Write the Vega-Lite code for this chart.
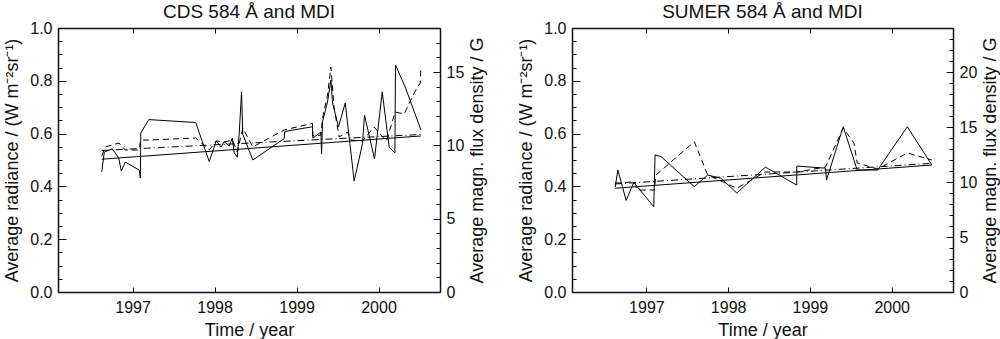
{
  "$schema": "https://vega.github.io/schema/vega-lite/v6.json",
  "padding": {"left": 3, "right": 0, "top": 3, "bottom": 0},
  "config": {
    "view": {"stroke": null},
    "font": "Liberation Sans",
    "axis": {"labelFont": "Liberation Sans", "labelFontSize": 16, "labelColor": "#111", "titleFont": "Liberation Sans", "titleFontSize": 18, "titleFontWeight": "normal", "titleColor": "#111", "domainColor": "#111", "domainWidth": 1.5, "tickColor": "#111", "tickWidth": 1, "grid": false},
    "title": {"font": "Liberation Sans", "fontSize": 19, "fontWeight": "normal", "color": "#111", "offset": -2},
    "concat": {"spacing": 30}
  },
  "datasets": {
    "cdsRad": [
      {"year": 1996.624, "rad": 0.455}, {"year": 1996.655, "rad": 0.530}, {"year": 1996.752, "rad": 0.542}, {"year": 1996.831, "rad": 0.508},
      {"year": 1996.862, "rad": 0.458}, {"year": 1996.911, "rad": 0.492}, {"year": 1997.081, "rad": 0.462}, {"year": 1997.094, "rad": 0.432},
      {"year": 1997.100, "rad": 0.602}, {"year": 1997.197, "rad": 0.653}, {"year": 1997.770, "rad": 0.642}, {"year": 1997.935, "rad": 0.494},
      {"year": 1998.020, "rad": 0.572}, {"year": 1998.081, "rad": 0.549}, {"year": 1998.118, "rad": 0.570}, {"year": 1998.179, "rad": 0.553},
      {"year": 1998.216, "rad": 0.583}, {"year": 1998.240, "rad": 0.527}, {"year": 1998.277, "rad": 0.511}, {"year": 1998.301, "rad": 0.602},
      {"year": 1998.329, "rad": 0.758}, {"year": 1998.344, "rad": 0.598}, {"year": 1998.466, "rad": 0.500}, {"year": 1998.850, "rad": 0.581},
      {"year": 1998.856, "rad": 0.608}, {"year": 1999.195, "rad": 0.626}, {"year": 1999.199, "rad": 0.583}, {"year": 1999.297, "rad": 0.606},
      {"year": 1999.305, "rad": 0.523}, {"year": 1999.317, "rad": 0.645}, {"year": 1999.378, "rad": 0.720}, {"year": 1999.419, "rad": 0.803},
      {"year": 1999.439, "rad": 0.716}, {"year": 1999.512, "rad": 0.626}, {"year": 1999.594, "rad": 0.716}, {"year": 1999.703, "rad": 0.420},
      {"year": 1999.805, "rad": 0.563}, {"year": 1999.829, "rad": 0.670}, {"year": 1999.951, "rad": 0.504}, {"year": 2000.045, "rad": 0.758},
      {"year": 2000.130, "rad": 0.549}, {"year": 2000.200, "rad": 0.527}, {"year": 2000.207, "rad": 0.860}, {"year": 2000.325, "rad": 0.777},
      {"year": 2000.517, "rad": 0.614}
    ],
    "cdsFlux": [
      {"year": 1996.624, "flux": 9.27}, {"year": 1996.667, "flux": 9.89}, {"year": 1996.834, "flux": 10.16}, {"year": 1996.911, "flux": 9.68},
      {"year": 1997.081, "flux": 9.68}, {"year": 1997.097, "flux": 10.36}, {"year": 1997.197, "flux": 10.36}, {"year": 1997.770, "flux": 10.50},
      {"year": 1997.935, "flux": 9.68}, {"year": 1998.020, "flux": 10.30}, {"year": 1998.118, "flux": 10.23}, {"year": 1998.216, "flux": 10.36},
      {"year": 1998.277, "flux": 9.55}, {"year": 1998.344, "flux": 11.18}, {"year": 1998.466, "flux": 9.89}, {"year": 1998.850, "flux": 11.05},
      {"year": 1999.195, "flux": 11.50}, {"year": 1999.199, "flux": 10.64}, {"year": 1999.297, "flux": 10.70}, {"year": 1999.317, "flux": 11.86},
      {"year": 1999.378, "flux": 13.43}, {"year": 1999.419, "flux": 15.34}, {"year": 1999.459, "flux": 12.55}, {"year": 1999.520, "flux": 10.57},
      {"year": 1999.622, "flux": 10.91}, {"year": 1999.663, "flux": 10.36}, {"year": 1999.805, "flux": 10.30}, {"year": 1999.947, "flux": 11.25},
      {"year": 2000.029, "flux": 10.70}, {"year": 2000.097, "flux": 10.30}, {"year": 2000.203, "flux": 12.27}, {"year": 2000.313, "flux": 12.14},
      {"year": 2000.435, "flux": 13.57}, {"year": 2000.508, "flux": 14.25}, {"year": 2000.517, "flux": 15.27}
    ],
    "cdsRadFit": [{"year": 1996.624, "rad": 0.503}, {"year": 2000.517, "rad": 0.591}],
    "cdsFluxFit": [{"year": 1996.624, "flux": 9.65}, {"year": 2000.517, "flux": 10.74}],
    "sumerRad": [
      {"year": 1996.618, "rad": 0.397}, {"year": 1996.651, "rad": 0.462}, {"year": 1996.752, "rad": 0.347}, {"year": 1996.846, "rad": 0.415},
      {"year": 1997.090, "rad": 0.323}, {"year": 1997.106, "rad": 0.519}, {"year": 1997.179, "rad": 0.513}, {"year": 1997.586, "rad": 0.399},
      {"year": 1997.749, "rad": 0.443}, {"year": 1997.911, "rad": 0.431}, {"year": 1998.106, "rad": 0.375}, {"year": 1998.456, "rad": 0.473},
      {"year": 1998.838, "rad": 0.405}, {"year": 1998.840, "rad": 0.477}, {"year": 1999.191, "rad": 0.469}, {"year": 1999.203, "rad": 0.424},
      {"year": 1999.407, "rad": 0.626}, {"year": 1999.578, "rad": 0.462}, {"year": 1999.828, "rad": 0.462}, {"year": 2000.191, "rad": 0.626},
      {"year": 2000.492, "rad": 0.481}
    ],
    "sumerFlux": [
      {"year": 1996.618, "flux": 9.91}, {"year": 1996.688, "flux": 9.91}, {"year": 1996.852, "flux": 10.03}, {"year": 1996.895, "flux": 9.27},
      {"year": 1997.096, "flux": 9.27}, {"year": 1997.118, "flux": 10.64}, {"year": 1997.586, "flux": 13.66}, {"year": 1997.749, "flux": 10.64},
      {"year": 1998.106, "flux": 9.43}, {"year": 1998.456, "flux": 10.91}, {"year": 1998.838, "flux": 10.91}, {"year": 1999.191, "flux": 11.36},
      {"year": 1999.407, "flux": 14.91}, {"year": 1999.538, "flux": 13.55}, {"year": 1999.578, "flux": 11.73}, {"year": 1999.828, "flux": 11.18},
      {"year": 2000.191, "flux": 12.64}, {"year": 2000.492, "flux": 12.0}
    ],
    "sumerRadFit": [{"year": 1996.618, "rad": 0.393}, {"year": 2000.492, "rad": 0.481}],
    "sumerFluxFit": [{"year": 1996.618, "flux": 9.82}, {"year": 2000.492, "flux": 11.70}]
  },
  "hconcat": [
    {
      "title": "CDS 584 Å and MDI",
      "width": 382, "height": 264,
      "layer": [
        {
          "layer": [
            {
              "data": {"name": "cdsRad"},
              "mark": {"type": "line", "color": "#000", "strokeWidth": 1},
              "encoding": {
                "x": {"field": "year", "type": "quantitative", "scale": {"domain": [1996.09, 2000.75], "nice": false, "zero": false},
                      "axis": {"orient": "bottom", "values": [1997, 1998, 1999, 2000], "format": "d", "tickSize": -5, "labelPadding": 12, "title": "Time / year", "titlePadding": 6}},
                "y": {"field": "rad", "type": "quantitative", "scale": {"domain": [0, 1], "nice": false},
                      "axis": {"orient": "left", "values": [0, 0.2, 0.4, 0.6, 0.8, 1], "format": ".1f", "tickSize": -8, "labelPadding": 14, "title": "Average radiance / (W m⁻²sr⁻¹)", "titlePadding": 8}}
              }
            },
            {
              "data": {"name": "cdsRadFit"},
              "mark": {"type": "line", "color": "#000", "strokeWidth": 1},
              "encoding": {
                "x": {"field": "year", "type": "quantitative", "scale": {"domain": [1996.09, 2000.75], "nice": false, "zero": false},
                      "axis": {"orient": "top", "values": [1997, 1998, 1999, 2000], "labels": false, "tickSize": -5, "title": null}},
                "y": {"field": "rad", "type": "quantitative", "scale": {"domain": [0, 1], "nice": false},
                      "axis": {"orient": "left", "values": [0, 0.05, 0.1, 0.15, 0.2, 0.25, 0.3, 0.35, 0.4, 0.45, 0.5, 0.55, 0.6, 0.65, 0.7, 0.75, 0.8, 0.85, 0.9, 0.95, 1], "labels": false, "tickSize": -4, "domain": false, "title": null}}
              }
            }
          ],
          "resolve": {"axis": {"x": "independent", "y": "independent"}}
        },
        {
          "layer": [
            {
              "data": {"name": "cdsFlux"},
              "mark": {"type": "line", "color": "#000", "strokeWidth": 1, "strokeDash": [6, 4]},
              "encoding": {
                "x": {"field": "year", "type": "quantitative", "scale": {"domain": [1996.09, 2000.75], "nice": false, "zero": false}, "axis": null},
                "y": {"field": "flux", "type": "quantitative", "scale": {"domain": [0, 18], "nice": false},
                      "axis": {"orient": "right", "values": [0, 5, 10, 15], "tickSize": -7, "labelPadding": 13, "title": "Average magn. flux density / G", "titleAngle": 270, "titleBaseline": "top", "titlePadding": 5}}
              }
            },
            {
              "data": {"name": "cdsFluxFit"},
              "mark": {"type": "line", "color": "#000", "strokeWidth": 1, "strokeDash": [7, 3, 1, 3]},
              "encoding": {
                "x": {"field": "year", "type": "quantitative", "scale": {"domain": [1996.09, 2000.75], "nice": false, "zero": false}, "axis": null},
                "y": {"field": "flux", "type": "quantitative", "scale": {"domain": [0, 18], "nice": false},
                      "axis": {"orient": "right", "values": [0, 1, 2, 3, 4, 5, 6, 7, 8, 9, 10, 11, 12, 13, 14, 15, 16, 17, 18], "labels": false, "tickSize": -4, "domain": false, "title": null}}
              }
            }
          ],
          "resolve": {"axis": {"y": "independent"}}
        }
      ],
      "resolve": {"scale": {"y": "independent"}}
    },
    {
      "title": "SUMER 584 Å and MDI",
      "width": 381, "height": 264,
      "layer": [
        {
          "layer": [
            {
              "data": {"name": "sumerRad"},
              "mark": {"type": "line", "color": "#000", "strokeWidth": 1},
              "encoding": {
                "x": {"field": "year", "type": "quantitative", "scale": {"domain": [1996.09, 2000.75], "nice": false, "zero": false},
                      "axis": {"orient": "bottom", "values": [1997, 1998, 1999, 2000], "format": "d", "tickSize": -5, "labelPadding": 12, "title": "Time / year", "titlePadding": 6}},
                "y": {"field": "rad", "type": "quantitative", "scale": {"domain": [0, 1], "nice": false},
                      "axis": {"orient": "left", "values": [0, 0.2, 0.4, 0.6, 0.8, 1], "format": ".1f", "tickSize": -8, "labelPadding": 14, "title": "Average radiance / (W m⁻²sr⁻¹)", "titlePadding": 8}}
              }
            },
            {
              "data": {"name": "sumerRadFit"},
              "mark": {"type": "line", "color": "#000", "strokeWidth": 1},
              "encoding": {
                "x": {"field": "year", "type": "quantitative", "scale": {"domain": [1996.09, 2000.75], "nice": false, "zero": false},
                      "axis": {"orient": "top", "values": [1997, 1998, 1999, 2000], "labels": false, "tickSize": -5, "title": null}},
                "y": {"field": "rad", "type": "quantitative", "scale": {"domain": [0, 1], "nice": false},
                      "axis": {"orient": "left", "values": [0, 0.05, 0.1, 0.15, 0.2, 0.25, 0.3, 0.35, 0.4, 0.45, 0.5, 0.55, 0.6, 0.65, 0.7, 0.75, 0.8, 0.85, 0.9, 0.95, 1], "labels": false, "tickSize": -4, "domain": false, "title": null}}
              }
            }
          ],
          "resolve": {"axis": {"x": "independent", "y": "independent"}}
        },
        {
          "layer": [
            {
              "data": {"name": "sumerFlux"},
              "mark": {"type": "line", "color": "#000", "strokeWidth": 1, "strokeDash": [6, 4]},
              "encoding": {
                "x": {"field": "year", "type": "quantitative", "scale": {"domain": [1996.09, 2000.75], "nice": false, "zero": false}, "axis": null},
                "y": {"field": "flux", "type": "quantitative", "scale": {"domain": [0, 24], "nice": false},
                      "axis": {"orient": "right", "values": [0, 5, 10, 15, 20], "tickSize": -7, "labelPadding": 13, "title": "Average magn. flux density / G", "titleAngle": 270, "titleBaseline": "top", "titlePadding": 5}}
              }
            },
            {
              "data": {"name": "sumerFluxFit"},
              "mark": {"type": "line", "color": "#000", "strokeWidth": 1, "strokeDash": [7, 3, 1, 3]},
              "encoding": {
                "x": {"field": "year", "type": "quantitative", "scale": {"domain": [1996.09, 2000.75], "nice": false, "zero": false}, "axis": null},
                "y": {"field": "flux", "type": "quantitative", "scale": {"domain": [0, 24], "nice": false},
                      "axis": {"orient": "right", "values": [0, 1, 2, 3, 4, 5, 6, 7, 8, 9, 10, 11, 12, 13, 14, 15, 16, 17, 18, 19, 20, 21, 22, 23, 24], "labels": false, "tickSize": -4, "domain": false, "title": null}}
              }
            }
          ],
          "resolve": {"axis": {"y": "independent"}}
        }
      ],
      "resolve": {"scale": {"y": "independent"}}
    }
  ]
}
